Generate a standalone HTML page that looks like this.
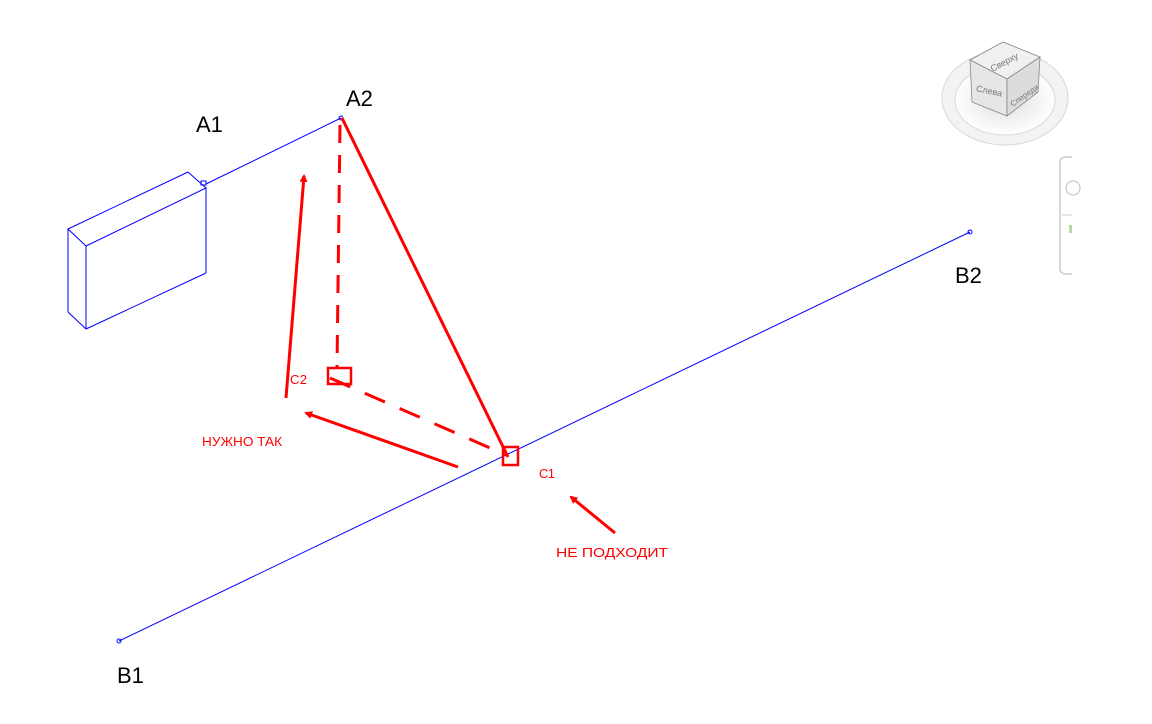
<!DOCTYPE html>
<html><head><meta charset="utf-8"><style>
html,body{margin:0;padding:0;background:#fff;}
svg{display:block;}
text{font-family:"Liberation Sans","DejaVu Sans",sans-serif;}
</style></head><body>
<svg width="1152" height="724" viewBox="0 0 1152 724" xmlns="http://www.w3.org/2000/svg">
<defs>
<marker id="ah" markerWidth="8" markerHeight="8" refX="6" refY="4" orient="auto" markerUnits="userSpaceOnUse" viewBox="0 0 8 8">
<path d="M0,0 L8,4 L0,8 Z" fill="#f00"/></marker>
<radialGradient id="sh" cx="50%" cy="50%" r="50%"><stop offset="0" stop-color="#ddd"/><stop offset="1" stop-color="#fff"/></radialGradient>
</defs>
<g stroke="#00f" stroke-width="1" fill="none">
<line x1="206" y1="184" x2="341" y2="118"/>
<line x1="119" y1="641" x2="970" y2="232"/>
<polygon points="68,229 188,172 206,188 86,246"/>
<line x1="86" y1="246" x2="86" y2="329"/>
<line x1="206" y1="188" x2="206" y2="273"/>
<line x1="86" y1="329" x2="206" y2="273"/>
<line x1="68" y1="229" x2="68" y2="312"/>
<line x1="68" y1="312" x2="86" y2="329"/>
<rect x="201" y="181" width="5" height="4"/>
<circle cx="341" cy="118" r="2"/>
<circle cx="119" cy="641" r="2"/>
<circle cx="970" cy="232" r="2"/>
</g>
<g stroke="#f00" stroke-width="3" fill="none">
<line x1="342" y1="118" x2="508" y2="457"/>
<path d="M340,125 L337,368" stroke-dasharray="18,12"/>
<path d="M330,378 L506,455" stroke-dasharray="22,16"/>
<rect x="328" y="368" width="23" height="16" stroke-width="2.5"/>
<rect x="503" y="447" width="15" height="18" stroke-width="2.5"/>
<line x1="458" y1="467" x2="306" y2="413" marker-end="url(#ah)"/>
<line x1="286" y1="398" x2="304" y2="176" marker-end="url(#ah)"/>
<line x1="615" y1="533" x2="571" y2="497" marker-end="url(#ah)"/>
</g>
<g fill="#f00" font-size="13">
<text x="290" y="384" textLength="17">C2</text>
<text x="539" y="478" textLength="16">C1</text>
<text x="202" y="446" textLength="80" lengthAdjust="spacingAndGlyphs">НУЖНО ТАК</text>
<text x="556" y="557" textLength="112" lengthAdjust="spacingAndGlyphs">НЕ ПОДХОДИТ</text>
</g>
<g fill="#000" font-size="22">
<text x="196" y="132">A1</text>
<text x="346" y="106">A2</text>
<text x="955" y="283">B2</text>
<text x="117" y="683">B1</text>
</g>
<ellipse cx="1005" cy="98" rx="63" ry="47" fill="#f3f3f3" stroke="#ddd" stroke-width="1.2"/>
<ellipse cx="1005" cy="100" rx="50" ry="35" fill="url(#sh)" stroke="#ddd" stroke-width="1.2"/>
<polygon points="970,60 1003,42 1040,57 1007,79" fill="#f0f0f0" stroke="#888" stroke-width="0.8"/>
<polygon points="970,60 1007,79 1007,116 972,102" fill="#e6e6e6" stroke="#888" stroke-width="0.8"/>
<polygon points="1007,79 1040,57 1038,92 1007,116" fill="#dcdcdc" stroke="#888" stroke-width="0.8"/>
<text x="990" y="70" font-size="9" fill="#777" transform="rotate(-28 995 66)">Сверху</text>
<text x="976" y="92" font-size="9" fill="#777" transform="rotate(12 980 90)">Слева</text>
<text x="1008" y="104" font-size="8" fill="#777" transform="rotate(-35 1015 98)">Спереди</text>
<path d="M1072,157 L1066,157 Q1060,157 1060,163 L1060,268 Q1060,274 1066,274 L1072,274" fill="#fff" stroke="#ccc" stroke-width="1.5"/>
<line x1="1062" y1="215" x2="1072" y2="215" stroke="#ccc"/>
<circle cx="1073" cy="188" r="7" fill="none" stroke="#bbb"/>
<rect x="1069" y="225" width="3" height="8" fill="#b5d9a0"/>
</svg>
</body></html>
